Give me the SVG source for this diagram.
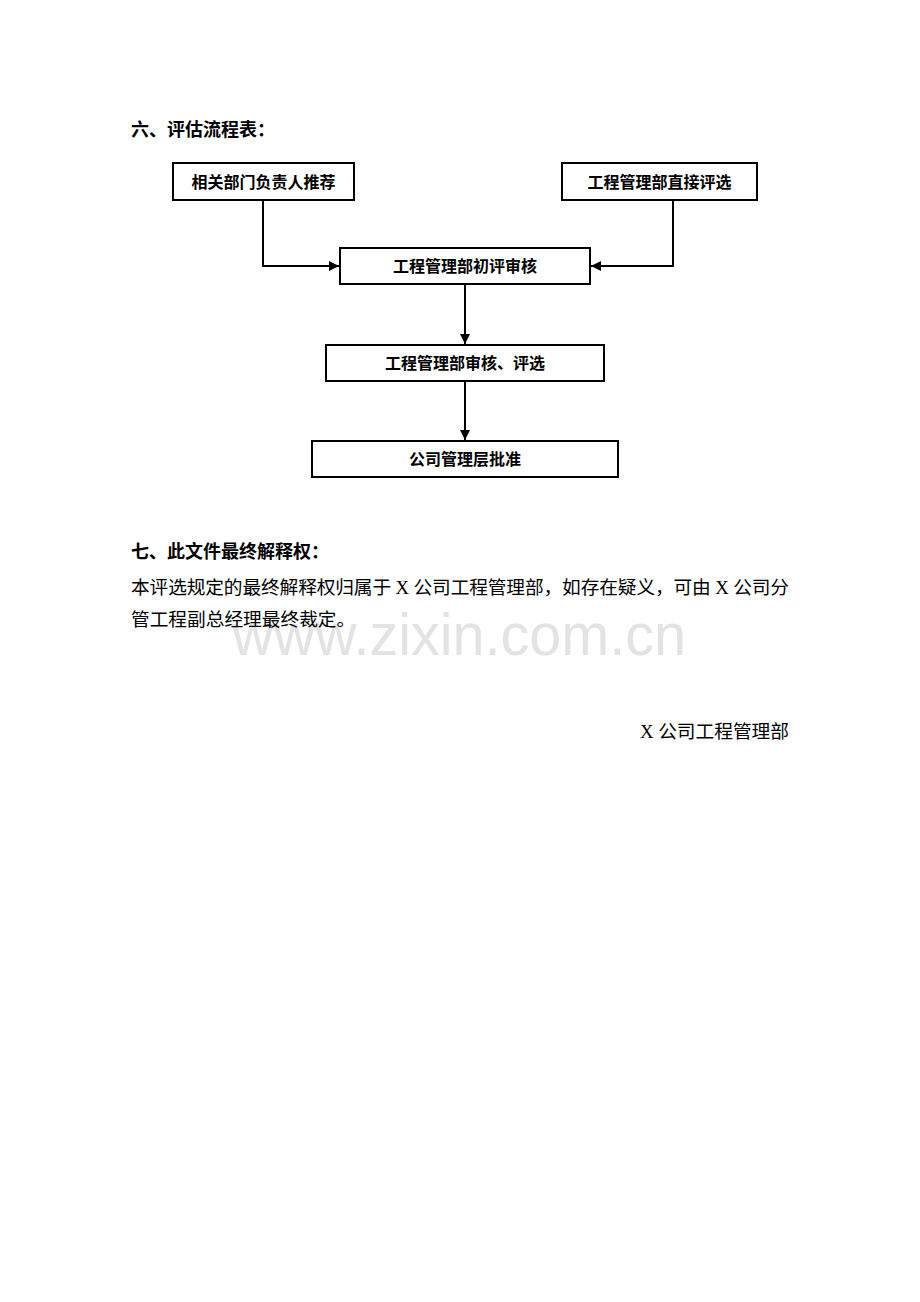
<svg xmlns="http://www.w3.org/2000/svg" width="920" height="1302" viewBox="0 0 920 1302">
<defs>
<style>
.h{font-family:"Liberation Sans","Noto Sans CJK SC",sans-serif;font-weight:bold;font-size:18px;fill:#000}
.n{fill:#fff;stroke:#000;stroke-width:2}
.t{font-family:"Liberation Sans","Noto Sans CJK SC",sans-serif;font-weight:bold;font-size:16px;fill:#000;text-anchor:middle}
.b{font-family:"Liberation Serif","Noto Sans CJK SC",serif;font-size:18.7px;fill:#000}
.c{fill:none;stroke:#000;stroke-width:2}
</style>
<marker id="a" viewBox="0 0 10 10" refX="10" refY="5" markerWidth="5" markerHeight="5" orient="auto" markerUnits="strokeWidth">
<path d="M0,0 L10,5 L0,10 z" fill="#000"/>
</marker>
</defs>
<rect width="920" height="1302" fill="#fff"/>
<text x="232" y="655" font-family="Liberation Sans,sans-serif" font-size="60" fill="#e3e3e3" textLength="454" lengthAdjust="spacingAndGlyphs">www.zixin.com.cn</text>
<text class="h" x="131" y="136">六、评估流程表：</text>
<g id="connectors">
<path class="c" d="M263,200 V266 H339" marker-end="url(#a)"/>
<path class="c" d="M673,200 V266 H591" marker-end="url(#a)"/>
<path class="c" d="M465,284 V344" marker-end="url(#a)"/>
<path class="c" d="M465,381 V440" marker-end="url(#a)"/>
</g>
<g id="n1"><rect class="n" x="173" y="163" width="181" height="37"/><text class="t" x="263.5" y="187.5">相关部门负责人推荐</text></g>
<g id="n2"><rect class="n" x="562" y="163" width="195" height="37"/><text class="t" x="659.5" y="187.5">工程管理部直接评选</text></g>
<g id="n3"><rect class="n" x="340" y="248" width="250" height="36"/><text class="t" x="465" y="272">工程管理部初评审核</text></g>
<g id="n4"><rect class="n" x="326" y="345" width="278" height="36"/><text class="t" x="465" y="369">工程管理部审核、评选</text></g>
<g id="n5"><rect class="n" x="312" y="441" width="306" height="36"/><text class="t" x="465" y="465">公司管理层批准</text></g>
<text class="h" x="131" y="558">七、此文件最终解释权：</text>
<text class="b" x="131" y="594" textLength="658" lengthAdjust="spacing">本评选规定的最终解释权归属于 X 公司工程管理部，如存在疑义，可由 X 公司分</text>
<text class="b" x="131" y="626">管工程副总经理最终裁定。</text>
<text class="b" x="789" y="738" text-anchor="end">X 公司工程管理部</text>
</svg>
